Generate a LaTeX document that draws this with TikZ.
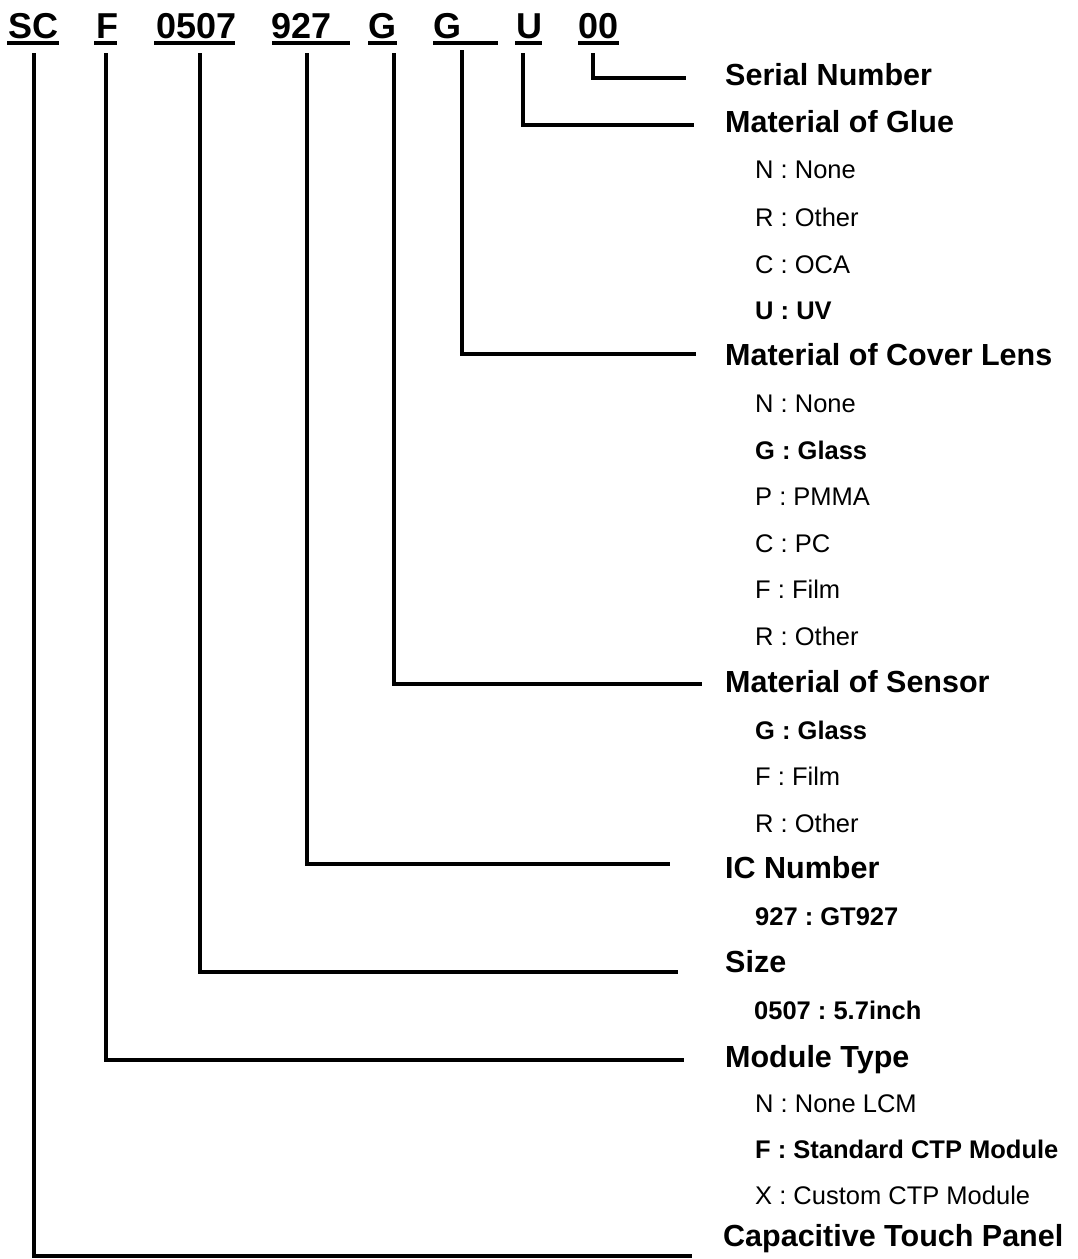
\documentclass[tikz,border=0pt]{standalone}
\usepackage{fontspec}
\setmainfont{Liberation Sans}
\begin{document}
\frenchspacing
\begin{tikzpicture}[x=1pt,y=-1pt,
  hdr/.style={anchor=base west,inner sep=0pt,font=\fontsize{36}{40}\selectfont\bfseries},
  headlbl/.style={anchor=base west,inner sep=0pt,font=\fontsize{30.5}{36}\selectfont\bfseries},
  itm/.style={anchor=base west,inner sep=0pt,font=\fontsize{25.5}{30}\selectfont},
  itmb/.style={anchor=base west,inner sep=0pt,font=\fontsize{25.5}{30}\selectfont\bfseries},
  uline/.style={line width=3.8pt},
  conn/.style={line width=3.1pt,line cap=rect}]
\useasboundingbox (0,0) rectangle (1078,1259);
% header code
\node[hdr] (sc) at (8,38.5) {SC};
\node[hdr] (f) at (96,38.5) {F};
\node[hdr] (sz) at (156,38.5) {0507};
\node[hdr] (ic) at (271,38.5) {927};
\node[hdr] (g1) at (368,38.5) {G};
\node[hdr] (g2) at (433,38.5) {G};
\node[hdr] (u) at (516,38.5) {U};
\node[hdr] (sn) at (578,38.5) {00};
% underlines
\draw[uline] (7,42.8) -- (59,42.8);
\draw[uline] (94,42.8) -- (117,42.8);
\draw[uline] (154,42.8) -- (235,42.8);
\draw[uline] (272,42.8) -- (350,42.8);
\draw[uline] (368,42.8) -- (397,42.8);
\draw[uline] (433,42.8) -- (498,42.8);
\draw[uline] (515,42.8) -- (542,42.8);
\draw[uline] (578,42.8) -- (619,42.8);
% headings
\node[headlbl] (hSerial) at (725,85) {Serial Number};
\node[headlbl] (hGlue) at (725,132) {Material of Glue};
\node[itm]  (g1n) at (755,178) {N : None};
\node[itm]  (g1r) at (755,226) {R : Other};
\node[itm]  (g1c) at (755,273) {C : OCA};
\node[itmb] (g1u) at (755,319) {U : UV};
\node[headlbl] (hCover) at (725,365) {Material of Cover Lens};
\node[itm]  (c1) at (755,412) {N : None};
\node[itmb] (c2) at (755,459) {G : Glass};
\node[itm]  (c3) at (755,505) {P : PMMA};
\node[itm]  (c4) at (755,552) {C : PC};
\node[itm]  (c5) at (755,598) {F : Film};
\node[itm]  (c6) at (755,645) {R : Other};
\node[headlbl] (hSensor) at (725,692) {Material of Sensor};
\node[itmb] (s1) at (755,739) {G : Glass};
\node[itm]  (s2) at (755,785) {F : Film};
\node[itm]  (s3) at (755,832) {R : Other};
\node[headlbl] (hIC) at (725,878) {IC Number};
\node[itmb] (i1) at (755,925) {927 : GT927};
\node[headlbl] (hSize) at (725,972) {Size};
\node[itmb] (z1) at (754,1019) {0507 : 5.7inch};
\node[headlbl] (hMod) at (725,1067) {Module Type};
\node[itm]  (m1) at (755,1112) {N : None LCM};
\node[itmb] (m2) at (755,1158) {F : Standard CTP Module};
\node[itm]  (m3) at (755,1204) {X : Custom CTP Module};
\node[headlbl] (hCTP) at (723,1246) {Capacitive Touch Panel};
% connector start and end points
\coordinate (tSN) at (593,55);  \coordinate (eSN) at (684,78);
\coordinate (tU)  at (523,55);  \coordinate (eU)  at (692,125);
\coordinate (tG2) at (462,52);  \coordinate (eG2) at (694,354);
\coordinate (tG1) at (394,55);  \coordinate (eG1) at (700,684);
\coordinate (tIC) at (307,55);  \coordinate (eIC) at (668,864);
\coordinate (tSZ) at (200,55);  \coordinate (eSZ) at (676,972);
\coordinate (tF)  at (106,55);  \coordinate (eF)  at (682,1060);
\coordinate (tSC) at (34,55);   \coordinate (eSC) at (690,1256);
\draw[conn] (tSN) |- (eSN);
\draw[conn] (tU)  |- (eU);
\draw[conn] (tG2) |- (eG2);
\draw[conn] (tG1) |- (eG1);
\draw[conn] (tIC) |- (eIC);
\draw[conn] (tSZ) |- (eSZ);
\draw[conn] (tF)  |- (eF);
\draw[conn] (tSC) |- (eSC);
\end{tikzpicture}
\end{document}
